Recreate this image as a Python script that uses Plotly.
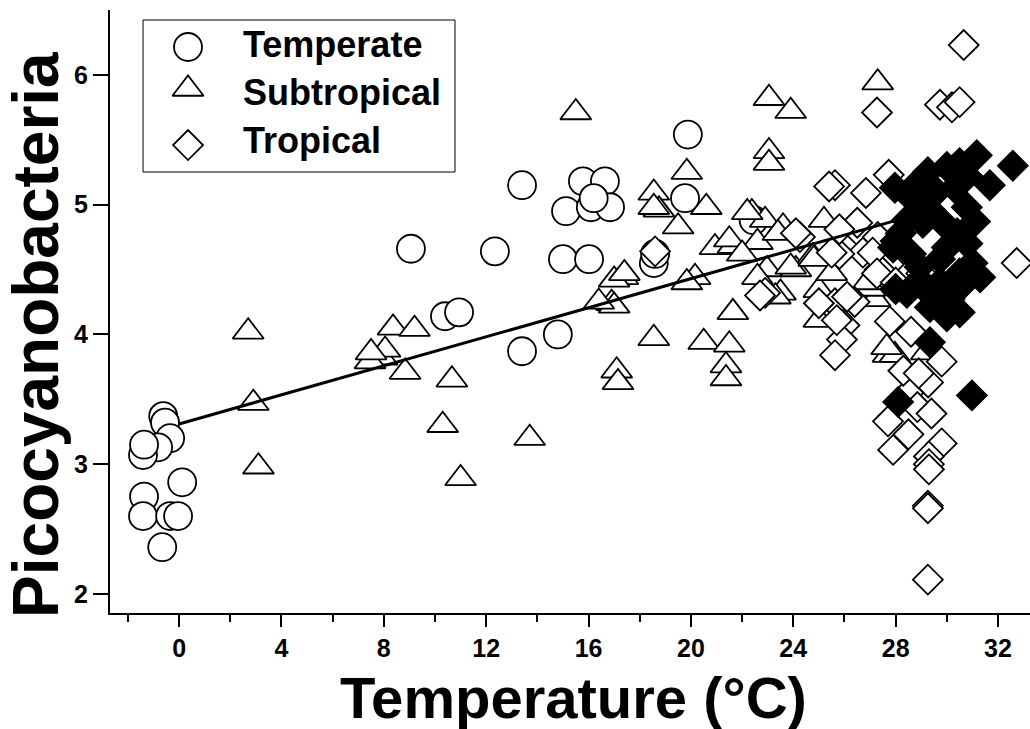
import plotly.graph_objects as go

# ---------------- data ----------------
temperate_x = [-0.62, -0.55, -0.35, -0.82, -1.41, -1.37, 0.12, -1.37, -1.41, -0.35, -0.04, -0.66,
               9.06, 12.34, 10.39, 10.94, 13.4, 15.78, 16.64, 15.12, 16.09, 16.84, 16.2, 15.0, 16.02,
               14.8, 13.4, 19.88, 19.77, 22.45, 18.55, 18.6]
temperate_y = [3.37, 3.32, 3.20, 3.13, 3.07, 3.15, 2.86, 2.75, 2.60, 2.60, 2.60, 2.36,
               4.66, 4.64, 4.14, 4.17, 5.15, 5.18, 5.18, 4.95, 4.98, 4.98, 5.05, 4.58, 4.58,
               4.00, 3.87, 5.54, 5.05, 4.88, 4.55, 4.62]

subtropical_x = [2.7, 2.9, 3.1, 10.66, 10.3, 11.0, 8.83, 7.93, 7.46, 8.36, 9.2, 8.05, 7.5, 13.7,
                 17.1, 17.15, 18.55, 20.5, 21.5, 21.37, 21.37, 27.7, 15.5, 23.05, 23.9, 27.3,
                 23.05, 23.05, 19.84, 18.55, 18.75, 20.6, 19.5, 17.34, 17.0, 16.9, 17.0, 20.16,
                 19.84, 20.94, 21.64, 22.38, 22.9, 22.6, 23.6, 22.97, 23.5, 24.1, 24.77, 25.2,
                 25.0, 21.64, 27.97, 29.2, 27.2, 25.0, 17.4, 16.4, 21.5, 22.2, 23.4, 22.6, 23.9,
                 24.8, 23.3, 27.65, 27.0, 25.5, 18.55, 22.0, 26.9]
subtropical_y = [4.02, 3.47, 2.98, 3.65, 3.30, 2.89, 3.71, 3.82, 3.79, 4.05, 4.04, 3.88, 3.86, 3.20,
                 3.72, 3.63, 3.97, 3.94, 3.92, 3.76, 3.66, 3.84, 5.71, 5.82, 5.72, 5.94,
                 5.41, 5.32, 5.25, 5.09, 4.96, 4.98, 4.83, 4.44, 4.42, 4.24, 4.22, 4.44,
                 4.40, 4.67, 4.68, 4.94, 4.88, 4.71, 4.83, 4.50, 4.32, 4.50, 4.60, 4.88,
                 4.34, 4.17, 3.84, 3.86, 4.27, 4.11, 4.47, 4.25, 4.73, 4.94, 4.78, 4.44, 4.52,
                 4.58, 4.29, 3.90, 4.35, 4.47, 4.98, 4.62, 4.40]

tropical_x = [30.66, 27.27, 29.73, 30.2, 30.5, 25.63, 27.73, 26.84, 32.73, 24.26, 26.0, 26.72,
              27.38, 25.63, 26.4, 27.3, 28.5, 25.8, 22.9, 18.6, 26.0, 25.9, 25.63, 27.77, 28.6,
              29.8, 29.27, 28.5, 28.85, 27.7, 28.5, 27.9, 29.4, 29.8, 29.3, 29.3, 29.3, 29.26,
              29.26, 29.26, 25.5, 25.0, 25.7, 26.1, 27.1, 27.27, 26.5, 25.8, 24.1, 28.6, 28.0,
              29.0, 28.3, 28.9, 25.4, 22.7]
tropical_y = [6.23, 5.71, 5.77, 5.75, 5.79, 5.15, 5.23, 5.09, 4.55, 4.75, 4.67, 4.63,
              4.50, 4.24, 4.25, 4.75, 4.62, 4.62, 4.32, 4.64, 4.07, 3.96, 3.84, 4.10, 4.02,
              3.79, 3.63, 3.55, 3.44, 3.33, 3.23, 3.11, 3.39, 3.16, 3.06, 3.00, 2.96, 2.68,
              2.66, 2.11, 4.63, 4.24, 4.11, 4.29, 4.63, 4.47, 4.86, 4.81, 4.78, 4.48, 4.40,
              4.47, 3.72, 3.70, 5.14, 4.30]

tropical_filled_x = [31.17, 32.58, 31.68, 27.97, 28.87, 29.26, 30.0, 30.5, 30.8, 29.6, 28.67, 30.3,
                     28.44, 28.2, 29.06, 29.34, 30.78, 31.1, 30.4, 30.0, 27.9, 28.0, 29.73, 31.3,
                     30.5, 28.94, 28.94, 28.44, 29.45, 30.1, 30.5, 29.34, 30.0, 29.34, 30.98, 28.1,
                     29.73, 30.5, 28.0, 29.0, 28.6, 31.0, 30.8, 29.9]
tropical_filled_y = [5.38, 5.30, 5.15, 5.13, 5.17, 5.25, 5.29, 5.32, 5.22, 5.10, 5.04, 5.13,
                     4.88, 4.78, 4.86, 4.96, 4.98, 4.87, 4.78, 4.67, 4.67, 4.72, 4.58, 4.44,
                     4.47, 4.52, 4.42, 4.32, 4.29, 4.27, 4.17, 4.21, 4.14, 3.94, 3.53, 3.48,
                     4.40, 4.36, 4.35, 4.96, 4.62, 4.55, 4.70, 4.85]

fit_x = [0.0, 28.4]
fit_y = [3.31, 4.90]

legend_names = ["Temperate", "Subtropical", "Tropical"]
legend_symbols = ["circle", "triangle-up", "diamond"]

# ---------------- styles ----------------
FONT = "Liberation Sans, Arial, sans-serif"
LW = 1.8
sizes = {"circle": 28, "triangle-up": 27, "diamond": 23}

fig = go.Figure()

def add_series(x, y, symbol, name, fill="white"):
    fig.add_trace(go.Scatter(
        x=x, y=y, mode="markers", name=name, showlegend=False,
        marker=dict(symbol=symbol, size=sizes[symbol], color=fill,
                    line=dict(color="black", width=LW)),
    ))

add_series(temperate_x, temperate_y, "circle", "Temperate")
add_series(subtropical_x, subtropical_y, "triangle-up", "Subtropical")
add_series(tropical_x, tropical_y, "diamond", "Tropical")
add_series(tropical_filled_x, tropical_filled_y, "diamond", "Tropical (filled)", fill="black")

fig.add_trace(go.Scatter(x=fit_x, y=fit_y, mode="lines", showlegend=False,
                         line=dict(color="black", width=3)))

# manual legend (symbols on an overlay axis in 0-1 units)
leg_y = [0.9386, 0.869, 0.776]
for sym, ly, nm in zip(legend_symbols, leg_y, legend_names):
    fig.add_trace(go.Scatter(
        x=[0.0848], y=[ly], xaxis="x2", yaxis="y2", mode="markers", showlegend=False,
        marker=dict(symbol=sym, size=sizes[sym], color="white", line=dict(color="black", width=LW)),
        hoverinfo="skip"))

text_y = [0.942, 0.864, 0.783]
annotations = []
for nm, ty in zip(legend_names, text_y):
    annotations.append(dict(x=0.1424, y=ty, xref="paper", yref="paper", text=nm,
                            showarrow=False, xanchor="left", yanchor="middle",
                            font=dict(family=FONT, size=36, color="black", weight="bold")))

annotations.append(dict(x=0.504, y=-0.0846, xref="paper", yref="paper", text="Temperature (°C)",
                        showarrow=False, xanchor="center", yanchor="top", borderpad=0,
                        font=dict(family=FONT, size=58, color="black", weight="bold")))
annotations.append(dict(x=-0.0799, y=0.462, xref="paper", yref="paper", text="Picocyanobacteria",
                        showarrow=False, xanchor="center", yanchor="middle", textangle=-90,
                        font=dict(family=FONT, size=64, color="black", weight="bold")))

fig.update_layout(
    width=1030, height=729,
    margin=dict(l=110, r=0, t=10, b=116),
    paper_bgcolor="white", plot_bgcolor="white",
    showlegend=False,
    annotations=annotations,
    shapes=[dict(type="rect", xref="paper", yref="paper", x0=0.0359, x1=0.375, y0=0.7313, y1=0.9834,
                 line=dict(color="black", width=1), fillcolor="rgba(0,0,0,0)", layer="above")],
    xaxis=dict(range=[-2.7, 33.25], tickmode="linear", tick0=0, dtick=4,
               showline=True, linecolor="black", linewidth=2, mirror=False,
               ticks="outside", ticklen=12, tickwidth=2, tickcolor="black",
               minor=dict(ticks="outside", ticklen=7, tickwidth=2, tickcolor="black", dtick=2, tick0=0),
               showgrid=False, zeroline=False,
               tickfont=dict(family=FONT, size=25, color="black", weight="bold")),
    yaxis=dict(range=[1.853, 6.50], tickmode="linear", tick0=2, dtick=1,
               showline=True, linecolor="black", linewidth=2, mirror=False,
               ticks="outside", ticklen=15, tickwidth=2, tickcolor="black",
               showgrid=False, zeroline=False,
               tickfont=dict(family=FONT, size=25, color="black", weight="bold")),
    xaxis2=dict(range=[0, 1], overlaying="x", visible=False, fixedrange=True),
    yaxis2=dict(range=[0, 1], overlaying="y", visible=False, fixedrange=True),
)

fig.write_html("out.html")
